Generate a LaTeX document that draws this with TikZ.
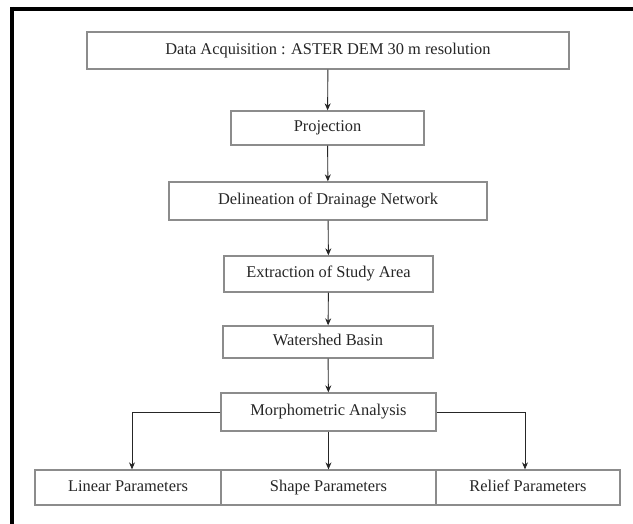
\documentclass[tikz,border=0pt]{standalone}
\usepackage{fontspec}
\setmainfont{Liberation Serif}
\usetikzlibrary{arrows.meta}
\begin{document}
\begin{tikzpicture}[x=1pt,y=-1pt,
  box/.style={draw=black!45, line width=1.3pt, inner sep=0pt, text height=11.5pt, text depth=3.5pt, font=\fontsize{16.4}{18}\selectfont, text=black!85},
  arr/.style={draw=black!85, line width=0.9pt, -{Stealth[length=7pt,width=6pt]}},
  frameline/.style={line width=4pt, black}]
\useasboundingbox (0,0) rectangle (633,524);
\fill[white] (0,0) rectangle (633,524);
\draw[frameline] (10,9) -- (633,9);
\draw[frameline] (12,7) -- (12,524);
\node[box, minimum width=482, minimum height=37] (acq) at (328,50.5) {Data Acquisition : ASTER DEM 30 m resolution};
\node[box, minimum width=193, minimum height=34] (proj) at (327.5,128) {Projection};
\node[box, minimum width=318, minimum height=38] (delin) at (328,201) {Delineation of Drainage Network};
\node[box, minimum width=209, minimum height=36] (extr) at (328.5,274) {Extraction of Study Area};
\node[box, minimum width=210, minimum height=32] (water) at (328,342) {Watershed Basin};
\node[box, minimum width=215, minimum height=38] (morph) at (328.5,412) {Morphometric Analysis};
\node[box, minimum width=186, minimum height=35] (lin) at (128,487.5) {Linear Parameters};
\node[box, minimum width=215, minimum height=35] (shape) at (328.5,487.5) {Shape Parameters};
\node[box, minimum width=184, minimum height=35] (rel) at (528,487.5) {Relief Parameters};
\draw[arr] (acq) -- (proj);
\draw[arr] (proj) -- (delin);
\draw[arr] (delin) -- (extr);
\draw[arr] (extr) -- (water);
\draw[arr] (water) -- (morph);
\draw[arr] (morph) -- (shape);
\draw[arr] (morph.west) -| ([xshift=4pt]lin.north);
\draw[arr] (morph.east) -| ([xshift=-3pt]rel.north);
\end{tikzpicture}
\end{document}
